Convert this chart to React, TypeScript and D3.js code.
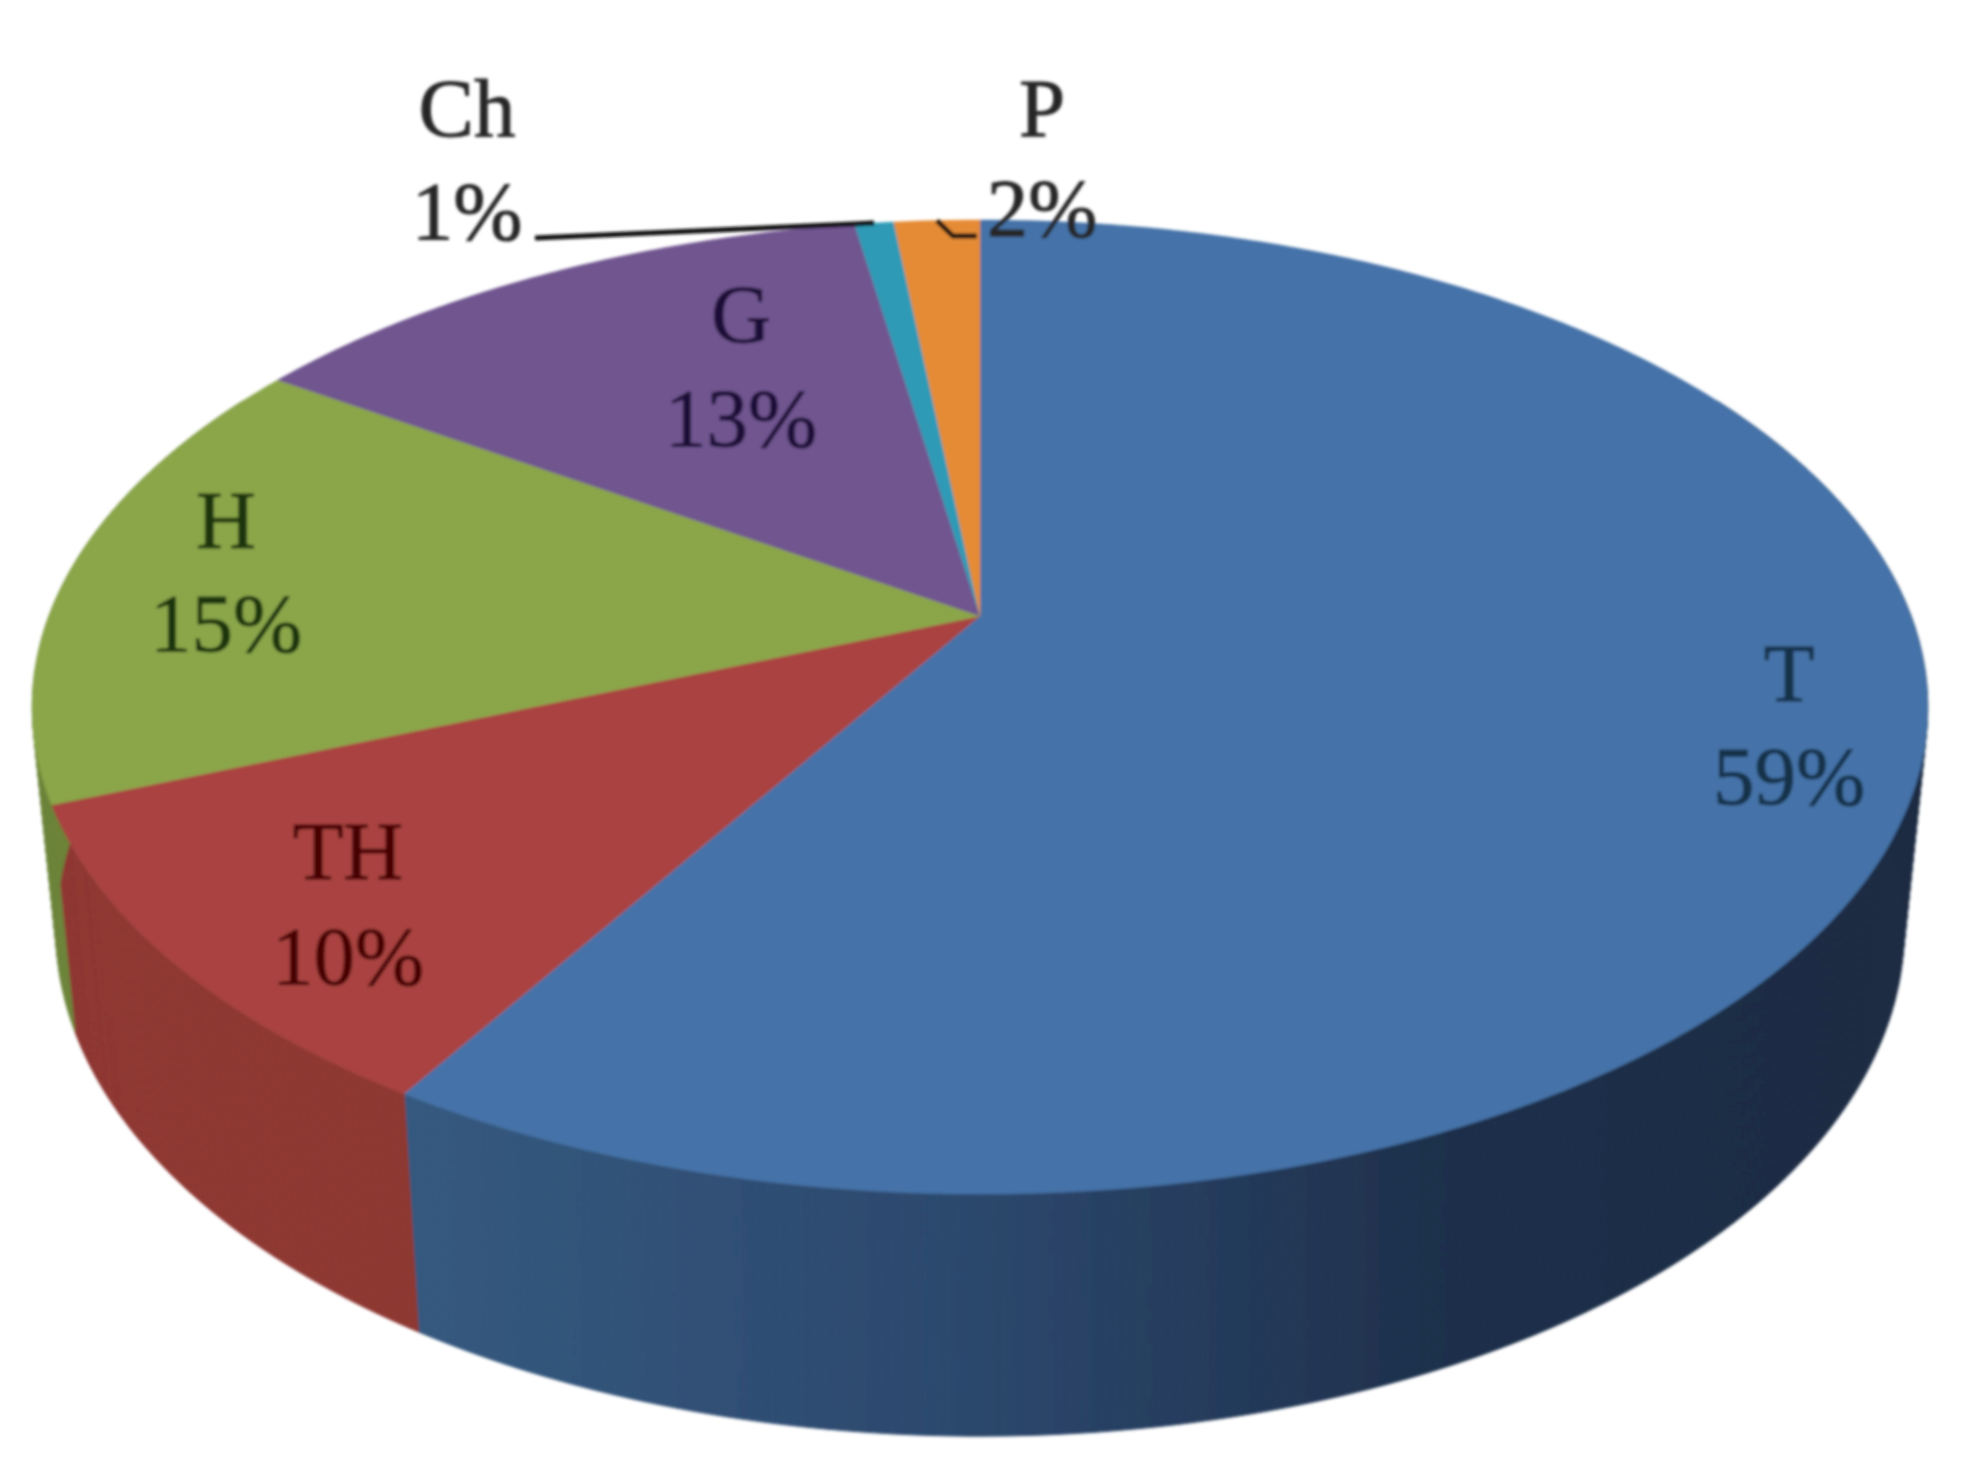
import * as d3 from "d3";

const categories = ["T", "TH", "H", "G", "Ch", "P"];
const shares = [58.7, 10.2, 15.45, 13.1, 0.8, 1.75];
const percentLabels = ["59%", "10%", "15%", "13%", "1%", "2%"];
const topColors = ["#4472a8", "#a9433f", "#8aa64a", "#70558f", "#2f9ab5", "#e58b35"];
const wallColors = ["url(#blueWall)", "#8e3733", "#6c843a", "#58436f", "#25798f", "#b56d29"];
const textColors = ["#123049", "#4a0505", "#1a340a", "#1e1039", "#262626", "#262626"];

const WIDTH = 1970;
const HEIGHT = 1473;

// perspective pie: centre is not the centre of the drawn ellipse
const cx = 980;
const cy = 616;
const rx = 931;
const ry = 470;
const tilt = 0.1869;
const wallScaleX = 0.975;
const wallScaleY = 1.04;
const wallDrop = 219;

function project(angle: number, bottom = false): [number, number] {
  const u = Math.sin(angle);
  const v = -Math.cos(angle);
  const w = 1 - tilt * v;
  const x = (rx * u) / w;
  const y = (ry * v) / w;
  return bottom
    ? [cx + wallScaleX * x, cy + wallDrop + wallScaleY * y]
    : [cx + x, cy + y];
}

function arcAngles(a0: number, a1: number) {
  const n = Math.max(2, Math.ceil((a1 - a0) / 0.01));
  return d3.range(n + 1).map((i) => a0 + ((a1 - a0) * i) / n);
}

const line = d3.line();

// label spots by category: centre x, first baseline, second baseline
const labelSpots: Record<string, [number, number, number]> = {
  T: [1789, 701, 804],
  TH: [348, 879, 984],
  H: [226, 548, 651],
  G: [741, 342, 446],
  Ch: [467, 136, 239],
  P: [1042, 136, 236],
};

export default function App() {
  const slices = d3.pie<number>().sort(null)(shares);
  const wallFrom = (60 * Math.PI) / 180;
  const wallTo = (300 * Math.PI) / 180;

  const chMid = (slices[4].startAngle + slices[4].endAngle) / 2;
  const pMid = (slices[5].startAngle + slices[5].endAngle) / 2;
  const chRim = project(chMid);
  const pRim = project(pMid);

  return (
    <svg
      width={WIDTH}
      height={HEIGHT}
      style={{ position: "absolute", left: 0, top: 0, background: "#fff" }}
    >
      <defs>
        <linearGradient id="blueWall" gradientUnits="userSpaceOnUse" x1={400} x2={1900} y1={0} y2={0}>
          <stop offset="0" stopColor="#35597f" />
          <stop offset="0.4" stopColor="#2b466b" />
          <stop offset="0.7" stopColor="#1d2f4a" />
          <stop offset="1" stopColor="#1a2b42" />
        </linearGradient>
        <filter id="soft" x="-5%" y="-5%" width="110%" height="110%">
          <feGaussianBlur stdDeviation="1.6" />
        </filter>
      </defs>
      <g filter="url(#soft)">
        {slices.map((s, i) => {
          const a0 = Math.max(s.startAngle, wallFrom);
          const a1 = Math.min(s.endAngle, wallTo);
          if (a1 <= a0) return null;
          // one quad per step, so the outer edge follows the silhouette of the side wall
          return (
            <g key={categories[i]} fill={wallColors[i]} stroke={wallColors[i]} strokeWidth={1}>
              {d3.pairs(arcAngles(a0, a1)).map(([p, q]) => (
                <path
                  key={p}
                  d={line([project(p), project(q), project(q, true), project(p, true)]) + "Z"}
                />
              ))}
            </g>
          );
        })}
        {slices.map((s, i) => {
          const pts = [[cx, cy] as [number, number], ...arcAngles(s.startAngle, s.endAngle).map((a) => project(a))];
          return (
            <path
              key={categories[i]}
              d={line(pts) + "Z"}
              fill={topColors[i]}
              stroke={topColors[i]}
              strokeWidth={0.5}
            />
          );
        })}
        <path
          d={line([[535, 238], [chRim[0] - 20, chRim[1] + 1], chRim])!}
          fill="none"
          stroke="#111"
          strokeWidth={5}
        />
        <path
          d={line([[pRim[0], pRim[1]], [pRim[0] + 16, 236], [pRim[0] + 40, 236]])!}
          fill="none"
          stroke="#111"
          strokeWidth={5}
        />
        {categories.map((c, i) => {
          const [x, y1, y2] = labelSpots[c];
          return (
            <g
              key={c}
              fontFamily="'Liberation Serif', serif"
              fontSize={83}
              textAnchor="middle"
              fill={textColors[i]}
              stroke={textColors[i]}
              strokeWidth={1}
            >
              <text x={x} y={y1}>{c}</text>
              <text x={x} y={y2}>{percentLabels[i]}</text>
            </g>
          );
        })}
      </g>
    </svg>
  );
}
